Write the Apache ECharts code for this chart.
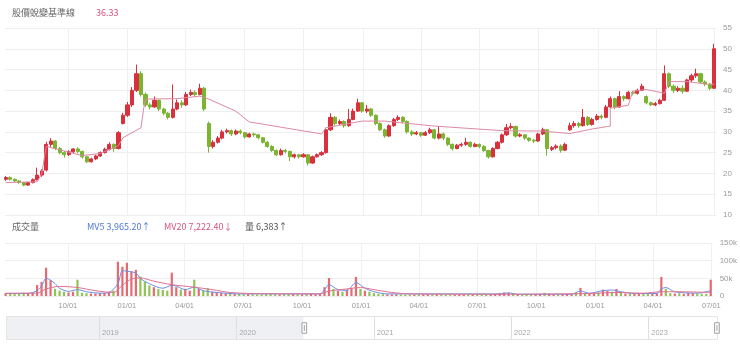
<!DOCTYPE html>
<html>
<head>
<meta charset="utf-8">
<script src="https://cdn.jsdelivr.net/npm/echarts@6/dist/echarts.min.js"></script>
<style>
  html, body { margin: 0; padding: 0; background: #fff; }
  #chart { width: 740px; height: 353px; }
</style>
</head>
<body>
<div id="chart"></div>
<script>
// weekly bars (Friday of each week)
const weeks = [
  '2020-06-26','2020-07-03','2020-07-10','2020-07-17','2020-07-24','2020-07-31','2020-08-07','2020-08-14','2020-08-21','2020-08-28',
  '2020-09-04','2020-09-11','2020-09-18','2020-09-25','2020-10-02','2020-10-09','2020-10-16','2020-10-23','2020-10-30','2020-11-06',
  '2020-11-13','2020-11-20','2020-11-27','2020-12-04','2020-12-11','2020-12-18','2020-12-25',
  '2021-01-01','2021-01-08','2021-01-15','2021-01-22','2021-01-29','2021-02-05','2021-02-12','2021-02-19','2021-02-26','2021-03-05',
  '2021-03-12','2021-03-19','2021-03-26','2021-04-02','2021-04-09','2021-04-16','2021-04-23','2021-04-30','2021-05-07','2021-05-14',
  '2021-05-21','2021-05-28','2021-06-04','2021-06-11','2021-06-18','2021-06-25','2021-07-02','2021-07-09','2021-07-16','2021-07-23',
  '2021-07-30','2021-08-06','2021-08-13','2021-08-20','2021-08-27','2021-09-03','2021-09-10','2021-09-17','2021-09-24','2021-10-01',
  '2021-10-08','2021-10-15','2021-10-22','2021-10-29','2021-11-05','2021-11-12','2021-11-19','2021-11-26','2021-12-03','2021-12-10',
  '2021-12-17','2021-12-24','2021-12-31',
  '2022-01-07','2022-01-14','2022-01-21','2022-01-28','2022-02-04','2022-02-11','2022-02-18','2022-02-25','2022-03-04','2022-03-11',
  '2022-03-18','2022-03-25','2022-04-01','2022-04-08','2022-04-15','2022-04-22','2022-04-29','2022-05-06','2022-05-13','2022-05-20',
  '2022-05-27','2022-06-03','2022-06-10','2022-06-17','2022-06-24','2022-07-01','2022-07-08','2022-07-15','2022-07-22','2022-07-29',
  '2022-08-05','2022-08-12','2022-08-19','2022-08-26','2022-09-02','2022-09-09','2022-09-16','2022-09-23','2022-09-30','2022-10-07',
  '2022-10-14','2022-10-21','2022-10-28','2022-11-04','2022-11-11','2022-11-18','2022-11-25','2022-12-02','2022-12-09','2022-12-16',
  '2022-12-23','2022-12-30',
  '2023-01-06','2023-01-13','2023-01-20','2023-01-27','2023-02-03','2023-02-10','2023-02-17','2023-02-24','2023-03-03','2023-03-10',
  '2023-03-17','2023-03-24','2023-03-31','2023-04-07','2023-04-14','2023-04-21','2023-04-28','2023-05-05','2023-05-12','2023-05-19',
  '2023-05-26','2023-06-02','2023-06-09','2023-06-16','2023-06-23','2023-06-30'
];

// [open, close, low, high]
const ohlc = [
  [18.6,19.0,18.2,19.4],[19.0,18.6,18.3,19.3],[18.6,18.2,17.9,18.8],[18.2,17.8,17.5,18.4],[17.8,17.2,16.9,17.9],
  [17.2,17.8,17.0,18.0],[17.8,18.5,17.6,18.8],[18.5,19.6,18.3,21.4],[19.6,20.6,19.2,21.0],[20.8,27.0,20.5,27.6],
  [27.0,27.8,26.4,28.5],[27.8,26.0,25.6,28.0],[26.0,25.0,24.6,26.4],[25.0,24.5,23.8,25.4],[24.5,25.2,24.2,25.6],
  [25.2,25.9,24.9,26.1],[25.9,25.3,24.8,26.3],[25.3,24.0,23.6,25.5],[24.0,22.8,22.5,24.2],[22.8,23.5,22.6,23.8],
  [23.5,24.2,23.2,24.5],[24.2,25.0,24.0,25.3],[25.0,25.8,24.8,26.2],[25.8,27.0,25.5,27.5],[27.0,26.0,25.2,27.2],
  [26.0,29.8,25.8,30.2],[32.0,34.0,31.8,34.6],[34.0,36.5,33.6,37.2],[36.5,40.0,36.0,40.8],[40.0,44.0,39.6,46.2],
  [44.0,39.0,38.5,44.6],[39.0,36.5,36.0,39.5],[36.5,36.0,35.4,37.0],[36.0,37.6,35.8,38.5],[37.6,35.5,35.0,37.8],
  [35.5,34.5,34.0,35.8],[34.5,33.5,33.0,34.8],[33.5,35.5,33.2,41.4],[35.5,37.0,35.2,37.8],[37.0,36.5,35.8,37.6],
  [36.5,39.0,36.2,39.6],[39.0,39.5,38.6,40.2],[39.5,39.0,38.4,40.0],[39.0,40.5,38.8,41.6],[40.5,35.5,35.0,40.8],
  [32.0,26.5,25.0,32.5],[26.5,27.5,26.0,28.0],[27.5,28.5,27.2,29.0],[28.5,30.0,28.2,30.5],[30.0,30.3,29.6,30.8],
  [30.3,29.5,29.0,30.6],[29.5,30.2,29.2,30.6],[30.2,29.8,29.4,30.6],[29.8,28.8,28.4,30.0],[28.8,29.5,28.6,29.8],
  [29.5,29.3,28.8,29.8],[29.3,28.6,28.2,29.5],[28.6,27.5,27.2,28.8],[27.5,26.5,26.2,27.8],[26.5,25.5,25.2,26.8],
  [25.5,24.5,24.2,25.8],[24.5,25.5,24.3,26.0],[25.5,25.3,24.8,25.9],[25.3,24.0,23.0,25.5],[24.0,24.5,23.6,24.8],
  [24.5,24.0,23.6,24.7],[24.0,24.5,23.8,24.9],[24.5,22.5,21.9,24.6],[22.5,24.0,22.3,24.3],[24.0,24.5,23.8,24.8],
  [24.5,25.0,24.2,25.4],[25.0,30.5,24.8,31.0],[30.5,33.5,30.2,34.5],[33.5,32.0,31.5,33.8],[32.0,32.5,31.6,33.0],
  [32.5,31.5,31.0,32.8],[31.5,33.0,31.2,35.5],[33.0,35.0,32.8,35.6],[35.0,37.0,34.8,38.0],[37.0,35.0,34.6,37.2],
  [35.0,35.5,34.5,36.5],[35.5,34.0,33.6,35.8],[34.0,32.0,31.6,34.2],[32.0,30.5,30.2,32.3],[30.5,29.0,28.6,30.8],
  [29.0,31.5,28.8,31.8],[31.5,33.0,31.2,33.4],[33.0,33.5,32.6,34.0],[33.5,32.5,32.0,33.8],[32.5,30.0,29.6,32.8],
  [30.0,29.5,29.0,30.4],[29.5,29.8,29.2,30.2],[29.8,29.2,28.8,30.0],[29.2,29.8,29.0,30.2],[29.8,30.5,29.5,31.0],
  [30.5,28.5,28.2,30.7],[28.5,29.5,28.2,31.4],[29.5,28.5,28.0,29.8],[28.5,27.0,26.6,28.7],[27.0,26.0,25.5,27.2],
  [26.0,26.8,25.8,27.1],[26.8,27.0,26.4,27.4],[27.0,27.5,26.6,28.6],[27.5,26.5,26.2,27.7],[26.5,27.0,26.3,27.4],
  [27.0,26.5,26.1,27.2],[26.5,25.5,25.2,26.8],[25.5,24.0,23.6,25.7],[24.0,26.0,23.8,26.3],[26.0,27.5,25.8,27.8],
  [27.5,29.3,27.2,29.6],[29.3,31.0,29.0,31.9],[31.0,31.3,30.6,32.1],[31.3,29.0,28.6,31.5],[29.0,29.3,28.7,29.7],
  [29.3,28.5,28.1,29.5],[28.5,28.0,27.6,28.7],[28.0,27.8,27.3,28.3],[27.8,29.5,27.6,29.8],[29.5,30.5,29.2,31.0],
  [30.5,26.0,24.3,30.7],[25.8,26.2,25.4,26.6],[26.2,26.6,25.8,27.0],[26.6,25.6,25.0,27.0],[25.6,27.0,25.4,27.4],
  [30.5,31.5,30.2,32.2],[31.5,32.0,31.0,32.6],[32.0,31.5,31.0,32.4],[31.5,33.5,31.3,35.5],[33.5,31.8,31.4,33.8],
  [31.8,33.0,31.5,33.4],[33.0,33.8,32.7,34.3],[33.8,33.5,33.0,34.2],[33.5,36.0,33.3,36.5],[36.0,38.0,35.7,38.5],
  [38.0,36.0,35.4,38.2],[36.0,38.5,35.8,39.8],[38.5,38.0,37.4,38.8],[38.0,39.5,37.8,39.9],[39.5,39.3,38.8,39.9],
  [39.3,40.0,39.0,40.4],[40.0,41.0,39.8,41.6],[38.5,37.0,36.6,38.8],[37.0,36.5,36.2,37.3],[36.5,36.8,36.2,37.2],
  [36.8,37.6,36.6,38.0],[37.6,44.0,37.4,46.0],[44.0,41.0,40.5,44.3],[41.0,40.0,39.4,41.4],[40.0,40.5,39.6,41.0],
  [40.5,39.8,39.2,41.2],[39.8,42.5,39.6,42.8],[42.5,43.5,42.0,44.0],[43.5,44.0,43.0,45.2],[44.0,42.0,41.6,44.2],
  [42.0,41.5,41.0,42.4],[41.5,40.5,40.0,41.8],[40.5,50.0,40.3,51.2]
];

const volume = [
  8000,7000,6500,7000,9000,8000,10000,31000,40000,80000,
  45000,20000,15000,12000,10000,12000,46000,9000,8000,7000,
  7000,8000,9000,12000,15000,97000,83000,94000,70000,74000,
  55000,40000,30000,25000,20000,17000,15000,66000,25000,18000,
  20000,15000,46000,20000,15000,22000,12000,10000,9000,8000,
  7000,6000,5500,5000,6000,5000,4500,5000,5500,6000,
  5000,4500,5000,6000,5500,5000,4500,5000,6500,5000,
  5500,25000,51000,20000,15000,12000,18000,22000,54000,20000,
  15000,12000,8000,6000,5000,5000,4500,5000,4500,4000,
  4500,4000,4500,5000,4500,4000,4000,4500,4000,3500,
  4000,4500,4000,3500,4000,4500,4000,4500,5000,5500,
  8000,10000,9000,7000,4500,4000,4500,4000,5000,6000,
  9000,6000,5000,4500,5000,6000,5000,10000,23000,8000,
  6000,6000,10000,18000,15000,12000,20000,10000,7000,6000,
  6000,7000,8000,6000,6000,8000,54000,20000,8000,7000,
  8000,6000,9000,8000,7000,6000,6000,46000
];

const mv5 = [
  ['2020-06-26',7000],['2020-07-31',7500],['2020-08-14',15000],['2020-08-21',28000],['2020-08-28',50000],
  ['2020-09-04',45000],['2020-09-11',35000],['2020-09-18',22000],['2020-10-02',13000],['2020-10-16',18000],
  ['2020-10-30',12000],['2020-11-20',8000],['2020-12-04',10000],['2020-12-18',35000],['2020-12-25',72000],
  ['2021-01-01',70000],['2021-01-15',65000],['2021-01-22',50000],['2021-02-05',35000],['2021-02-26',22000],
  ['2021-03-12',30000],['2021-03-19',28000],['2021-04-02',18000],['2021-04-16',25000],['2021-04-30',15000],
  ['2021-05-21',10000],['2021-06-25',6000],['2021-10-29',6000],['2021-11-05',18000],['2021-11-12',32000],
  ['2021-11-26',18000],['2021-12-10',16000],['2021-12-24',38000],['2022-01-07',22000],['2022-01-21',12000],
  ['2022-02-11',6000],['2022-08-05',6000],['2022-08-19',9000],['2022-09-02',5000],['2022-11-25',5000],
  ['2022-12-09',14000],['2022-12-23',8000],['2023-01-13',15000],['2023-01-27',17000],['2023-02-10',12000],
  ['2023-03-03',7000],['2023-04-07',7000],['2023-04-14',20000],['2023-04-21',24000],['2023-05-05',12000],
  ['2023-06-09',8000],['2023-06-30',15000]
];

const mv20 = [
  ['2020-06-26',8000],['2020-08-14',8000],['2020-08-28',20000],['2020-09-18',27000],['2020-10-16',24000],
  ['2020-11-13',15000],['2020-12-11',10000],['2020-12-25',30000],['2021-01-08',48000],['2021-01-22',51000],
  ['2021-02-12',42000],['2021-03-12',32000],['2021-04-16',25000],['2021-05-14',18000],['2021-06-11',10000],
  ['2021-07-16',7000],['2021-10-29',6000],['2021-11-12',14000],['2021-12-10',20000],['2021-12-31',24000],
  ['2022-01-21',18000],['2022-02-18',10000],['2022-03-18',6000],['2022-08-05',5000],['2022-12-23',7000],
  ['2023-02-03',10000],['2023-03-17',8000],['2023-04-14',12000],['2023-05-12',12000],['2023-06-30',10000]
];

// 股價蛻變基準線
const baseline = [
  ['2020-06-26',17.8],['2020-08-14',18.0],['2020-08-21',20.0],['2020-08-28',26.5],['2020-10-23',24.3],
  ['2020-11-20',24.8],['2020-12-18',26.7],['2020-12-25',28.6],['2021-01-22',31.0],['2021-01-26',35.5],
  ['2021-01-29',37.9],['2021-03-19',38.0],['2021-04-23',38.6],['2021-05-07',37.9],['2021-06-18',35.0],
  ['2021-07-09',32.4],['2021-10-29',29.5],['2021-11-05',31.0],['2021-12-31',32.6],['2022-02-04',32.6],
  ['2022-04-22',31.4],['2022-08-05',30.3],['2022-10-07',30.2],['2022-11-18',29.6],['2022-12-23',30.7],
  ['2023-01-20',31.4],['2023-01-20',35.7],['2023-02-17',36.4],['2023-02-24',39.8],['2023-03-17',40.2],
  ['2023-04-14',39.3],['2023-04-21',42.1],['2023-05-19',42.1],['2023-06-23',41.4],['2023-06-30',41.5]
];

const quarterTicks = ['2020-10-01','2021-01-01','2021-04-01','2021-07-01','2021-10-01','2022-01-01',
  '2022-04-01','2022-07-01','2022-10-01','2023-01-01','2023-04-01','2023-07-01'];
const yearTicks = ['2019-01-01','2020-01-01','2021-01-01','2022-01-01','2023-01-01'];

const fullMin = '2018-04-26';
const fullMax = '2023-07-03';
const viewStart = '2020-06-25';
const viewEnd = '2023-07-03';

const UP = '#d9303e';
const DOWN = '#7ab431';
const pad = n => (n < 10 ? '0' : '') + n;
// dates -> ms timestamps (local midnight) for a numeric x axis
const ts = s => new Date(s + 'T00:00:00').getTime();
const toXY = arr => arr.map(p => [ts(p[0]), p[1]]);

const candles = weeks.map((d, i) => [ts(d)].concat(ohlc[i]));
const volBars = weeks.map((d, i) => ({
  value: [ts(d), volume[i]],
  itemStyle: { color: ohlc[i][1] >= ohlc[i][0] ? 'rgba(226,80,90,0.85)' : 'rgba(125,185,55,0.85)' }
}));

const labelFont = { color: '#9a9a9a', fontSize: 7.5, fontFamily: 'Liberation Sans' };
const headFont = '9px "Noto Sans CJK TC", "Liberation Sans"';
const mmdd = v => { const d = new Date(v); return pad(d.getMonth() + 1) + '/' + pad(d.getDate()); };

const chart = echarts.init(document.getElementById('chart'));
chart.setOption({
  animation: false,
  backgroundColor: '#fff',
  grid: [
    { left: 5, right: 24, top: 28, height: 187 },
    { left: 5, right: 24, top: 243, height: 53 },
    { left: 5, right: 23, top: 316, height: 24 }
  ],
  xAxis: [
    {
      type: 'value', gridIndex: 0, min: ts(fullMin), max: ts(fullMax), scale: true,
      axisLine: { show: false }, axisLabel: { show: false },
      axisTick: { show: false, customValues: quarterTicks.map(ts) },
      splitLine: { show: true, lineStyle: { color: '#f0f0f0' } }
    },
    {
      type: 'value', gridIndex: 1, min: ts(fullMin), max: ts(fullMax), scale: true,
      axisLine: { show: false },
      axisTick: { show: false, customValues: quarterTicks.map(ts) },
      axisLabel: Object.assign({
        customValues: quarterTicks.map(ts), margin: 6, hideOverlap: false, formatter: mmdd
      }, labelFont),
      splitLine: { show: true, lineStyle: { color: '#f0f0f0' } }
    },
    {
      type: 'value', gridIndex: 2, min: ts(fullMin), max: ts(fullMax), scale: true, z: 10,
      axisLine: { show: false },
      axisTick: { show: false, customValues: yearTicks.map(ts) },
      axisLabel: Object.assign({
        customValues: yearTicks.map(ts), inside: true, align: 'left', margin: 3, padding: [0, 0, 0, 3],
        formatter: v => String(new Date(v).getFullYear())
      }, labelFont, { color: '#a8a8a8' }),
      splitLine: { show: true, lineStyle: { color: '#dedede' } }
    }
  ],
  yAxis: [
    {
      type: 'value', gridIndex: 0, position: 'right', min: 10, max: 55, interval: 5,
      axisLine: { show: false }, axisTick: { show: false },
      axisLabel: Object.assign({ margin: 7 }, labelFont, { fontSize: 8 }),
      splitLine: { lineStyle: { color: '#eeeeee' } }
    },
    {
      type: 'value', gridIndex: 1, position: 'right', min: 0, max: 150000, interval: 50000,
      axisLine: { show: false }, axisTick: { show: false },
      axisLabel: Object.assign({ margin: 7, formatter: v => (v === 0 ? '0' : v / 1000 + 'k') }, labelFont, { fontSize: 8 }),
      splitLine: { lineStyle: { color: '#eeeeee' } }
    },
    { type: 'value', gridIndex: 2, show: false }
  ],
  dataZoom: [{
    type: 'slider', xAxisIndex: [0, 1], filterMode: 'weakFilter',
    startValue: ts(viewStart), endValue: ts(viewEnd),
    left: 5, right: 23, top: 316, height: 24,
    showDetail: false, showDataShadow: false, brushSelect: false, moveHandleSize: 0,
    backgroundColor: '#eef0f3', fillerColor: '#ffffff', borderColor: '#e4e4e4',
    handleIcon: 'path://M1,1H9V19H1Z M5,5V15',
    handleSize: '44%',
    handleStyle: { color: '#fff', borderColor: '#a0a0a0', borderWidth: 1 },
    emphasis: { handleStyle: { borderColor: '#a0a0a0' } }
  }],
  graphic: [
    { type: 'text', left: 12, top: 8, style: { text: '股價蛻變基準線', fill: '#666', font: headFont } },
    { type: 'text', left: 96, top: 8, style: { text: '36.33', fill: '#d4547e', font: headFont } },
    { type: 'text', left: 12, top: 222, style: { text: '成交量', fill: '#666', font: headFont } },
    { type: 'text', left: 87, top: 222, style: { text: 'MV5 3,965.20↑', fill: '#4f78d6', font: headFont } },
    { type: 'text', left: 164, top: 222, style: { text: 'MV20 7,222.40↓', fill: '#d4547e', font: headFont } },
    { type: 'text', left: 245, top: 222, style: { text: '量 6,383↑', fill: '#555', font: headFont } }
  ],
  series: [
    {
      name: '股價', type: 'candlestick', xAxisIndex: 0, yAxisIndex: 0,
      data: candles, barWidth: 3.6,
      itemStyle: { color: UP, color0: DOWN, borderColor: UP, borderColor0: DOWN, borderWidth: 1 }
    },
    {
      name: '股價蛻變基準線', type: 'line', xAxisIndex: 0, yAxisIndex: 0,
      data: toXY(baseline), showSymbol: false, z: 3,
      lineStyle: { color: '#dc8aa6', width: 1 }
    },
    {
      name: '量', type: 'bar', xAxisIndex: 1, yAxisIndex: 1,
      data: volBars, barWidth: 2.2
    },
    {
      name: 'MV5', type: 'line', xAxisIndex: 1, yAxisIndex: 1,
      data: toXY(mv5), showSymbol: false, smooth: 0.3,
      lineStyle: { color: '#6a8fe0', width: 1 }
    },
    {
      name: 'MV20', type: 'line', xAxisIndex: 1, yAxisIndex: 1,
      data: toXY(mv20), showSymbol: false, smooth: 0.3,
      lineStyle: { color: '#e0708f', width: 1 }
    }
  ]
});
</script>
</body>
</html>
